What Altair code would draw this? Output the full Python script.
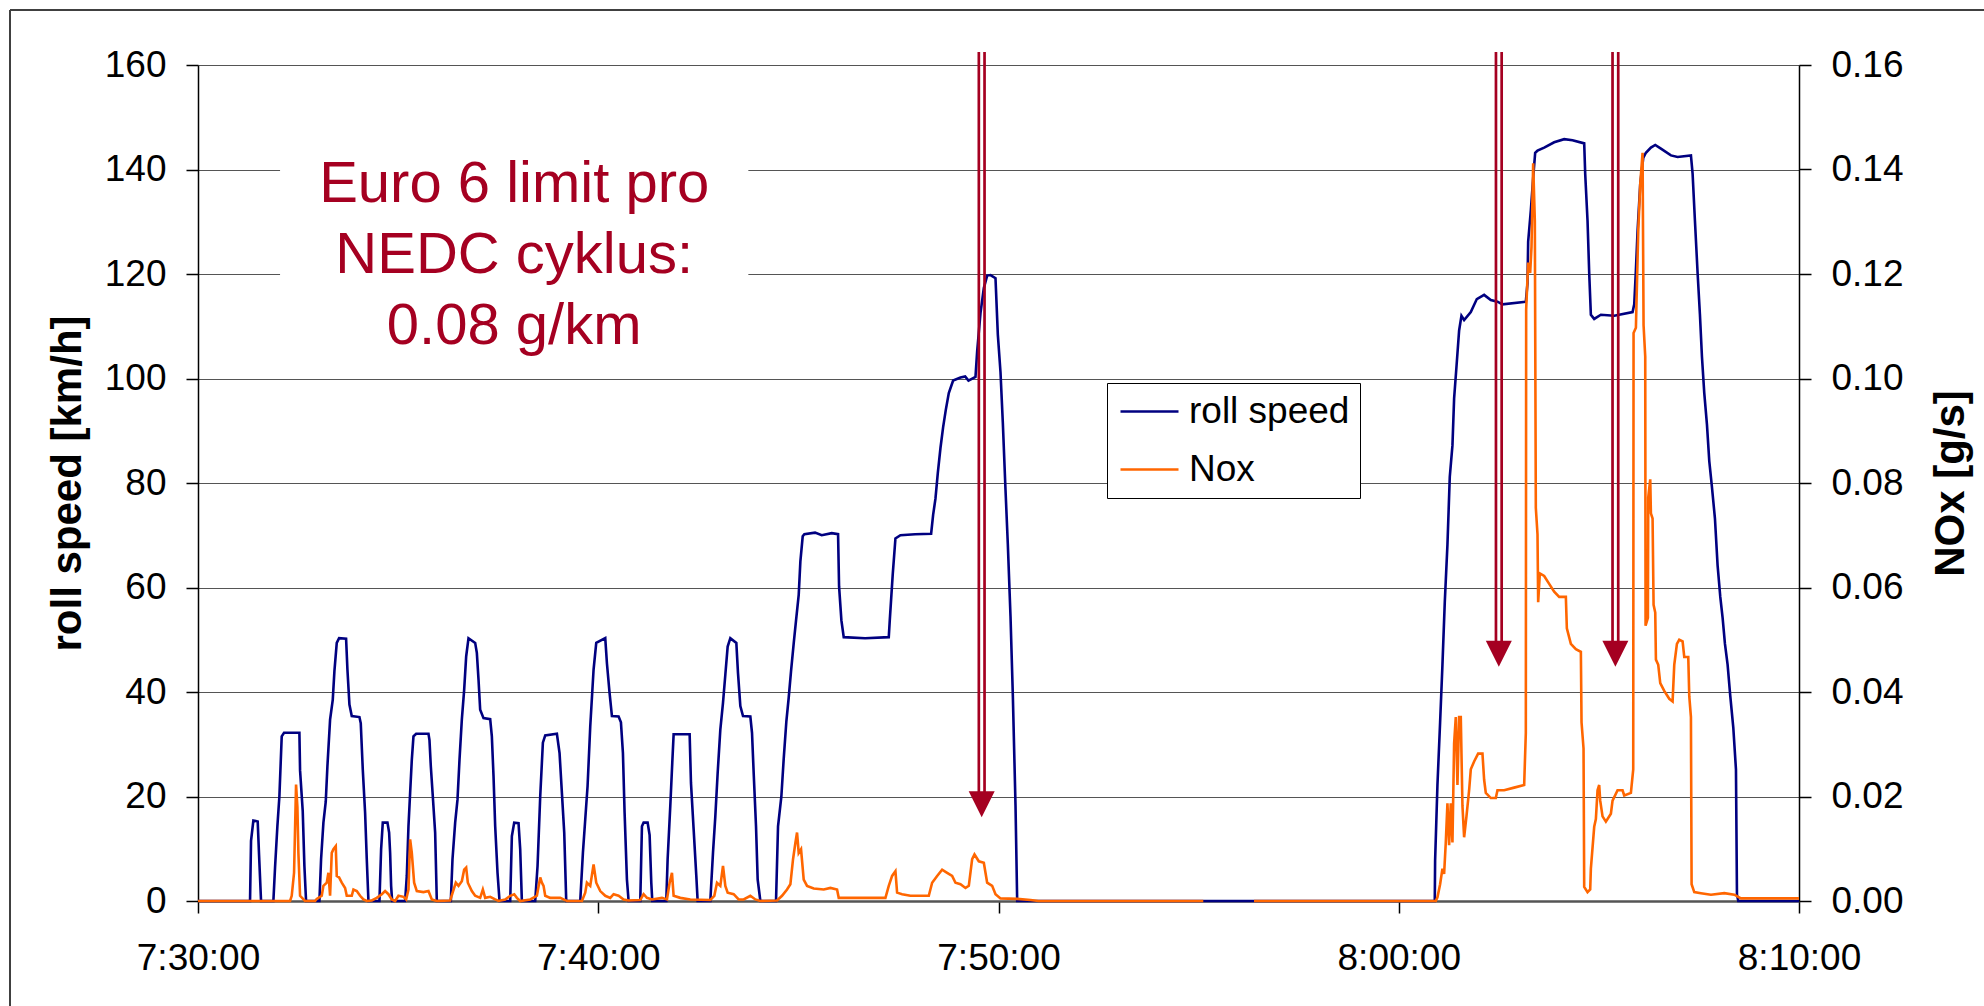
import altair as alt
import pandas as pd

# ---------------- axis ticks ----------------
tick_seconds = [0, 600, 1200, 1800, 2400]          # seconds after 7:30:00
tick_labels = ["7:30:00", "7:40:00", "7:50:00", "8:00:00", "8:10:00"]
speed_ticks = [0, 20, 40, 60, 80, 100, 120, 140, 160]
nox_ticks = [0, 0.02, 0.04, 0.06, 0.08, 0.10, 0.12, 0.14, 0.16]

# ---------------- roll speed [km/h] (t = seconds after 7:30:00) ----------------
c1_t = [0, 78, 79.5, 83, 89.5, 91.5, 94.5, 113, 115.5, 119, 122, 125.5, 129, 152, 153, 157, 159.5, 162,
        182, 184.5, 188, 191.5, 194, 198, 202, 204.5, 208, 211.5, 222, 224, 227, 230.5, 242, 244, 247,
        250.5, 253, 255.5]
c1_v = [0, 0, 11.5, 15.4, 15.2, 8.9, 0, 0, 6.4, 14.3, 20, 31.5, 32.2, 32.2, 25, 17.2, 6.7, 0,
        0, 8, 15, 19, 25.8, 34.7, 38.5, 44, 49.4, 50.3, 50.2, 44.3, 37.6, 35.4, 35.2, 34, 25.2,
        16.9, 8, 0]
c2_t = [272, 274.5, 277, 284, 286.5, 288, 289.5, 291, 310.5, 313, 315.5, 318, 320.5, 323, 327, 345.5,
        347, 349, 352, 355.5, 358, 379, 381.5, 385.5, 389, 392, 395.5, 399, 402, 405.5, 415.5, 418,
        420.5, 423, 428, 438, 440.5, 443, 445.5, 449, 452]
c2_v = [0, 9.9, 15, 15, 13.1, 9.2, 2.9, 0, 0, 4.8, 14.3, 20.7, 27, 31.5, 32, 32,
        30.8, 25.8, 20, 13.1, 0, 0, 8, 15, 19.4, 27, 34.7, 40.4, 46.8, 50.3, 49.4, 47.5,
        42.4, 36.6, 35, 34.8, 31.5, 23.9, 14.3, 5.4, 0]
c3_t = [468, 470.5, 474, 480.5, 483, 485.5, 505.5, 509, 513, 517, 520.5, 538, 542, 545.5, 549, 552,
        573, 577, 580.5, 584, 588, 593, 597, 610.5, 613, 617, 620.5, 630.5, 634, 637, 639.5, 643, 645.5]
c3_v = [0, 12.4, 15, 14.9, 9.9, 0, 0, 6.7, 20, 30.3, 31.7, 32, 28.3, 20.7, 13.1, 0,
        0, 9.2, 15.6, 22, 33.4, 44.3, 49.4, 50.3, 45.5, 39.8, 35.4, 35.3, 34.2, 28.3, 16.9, 4.1, 0]
c4_t = [663, 665.5, 668, 674, 677, 679.5, 681, 702, 704, 708, 710.5, 713, 737, 739, 743, 747, 749,
        768, 772, 775.5, 779, 783, 787, 790.5, 794, 798, 807, 809.5, 813, 817, 828, 830.5, 833, 836.5,
        839, 843]
c4_v = [0, 14.3, 15, 15, 12.6, 3.5, 0, 0, 8, 18.2, 25.2, 31.9, 31.9, 22.6, 13.7, 4.8, 0,
        0, 9.2, 16.2, 24.5, 32.8, 37.9, 43.3, 48.7, 50.3, 49.4, 43.6, 37.3, 35.4, 35.3, 32.2, 24.5, 14.3,
        4.1, 0]
eudc_t = [866.5, 869.5, 874.5, 878, 882, 885.5, 889, 893, 896.5, 900.5, 903, 906.5, 909, 925, 935, 950,
          959.5, 961, 964.5, 968, 1000, 1035.5, 1037, 1041.5, 1045.5, 1053, 1075, 1099, 1102, 1105.5,
          1109, 1113, 1117, 1121, 1125.5, 1132, 1143, 1150, 1155, 1165.5, 1168, 1173, 1178, 1183, 1188,
          1195.5, 1199, 1203, 1206.5, 1210.5, 1214, 1218, 1221.5, 1225.5, 1228]
eudc_v = [0, 14.3, 20, 27.2, 34.4, 38.9, 44, 49.3, 53.7, 58.6, 65, 69.8, 70.2, 70.5, 70, 70.4,
          70.2, 60.2, 53.7, 50.5, 50.3, 50.5, 53.7, 62.6, 69.4, 70, 70.2, 70.3, 73.9, 77,
          81.9, 86.7, 90.7, 94, 97.2, 99.6, 100.2, 100.4, 99.6, 100.3, 105.2, 112.5, 117.3, 119.7, 119.8,
          119.2, 108.4, 101.2, 91.5, 78.7, 68.2, 54.5, 39.3, 18.3, 0]
mw_t = [1854, 1854.5, 1858, 1862, 1865.5, 1869, 1873, 1876.5, 1880.5, 1883, 1886.5, 1890.5, 1894, 1898,
        1908, 1917, 1928, 1938, 1948, 1955.5, 1990.5, 1993, 1994, 1998, 2002, 2004.5, 2008, 2018, 2033,
        2048, 2060.5, 2078, 2079.5, 2083, 2085.5, 2088, 2093, 2103, 2123, 2150.5, 2153, 2155.5, 2158,
        2162, 2166.5, 2170.5, 2178, 2184.5, 2193, 2208, 2218, 2238, 2240.5, 2244, 2248, 2251.5, 2254.5,
        2258, 2262, 2265.5, 2269.5, 2274, 2278, 2282, 2285.5, 2289, 2293, 2297, 2301.5, 2305.5, 2307,
        2309, 2400]
mw_v = [0, 7.7, 22.2, 34.2, 45.2, 57.2, 68.2, 81.2, 87.2, 96.2, 102.2, 109.2, 112, 111.2,
        112.7, 115.2, 116, 115, 114.7, 114.2, 114.7, 118.2, 126.2, 132.2, 139.2, 143.2, 143.6, 144.2, 145.2,
        145.8, 145.6, 145, 139.2, 130.2, 120.2, 112.2, 111.4, 112.2, 112, 112.7, 114.2, 120.7, 128.2,
        137.2, 142.2, 143.2, 144.2, 144.7, 144, 142.7, 142.4, 142.7, 139.2, 130.2, 120.2, 112.2, 104.2,
        97.2, 91.2, 84.2, 79.2, 73.2, 64.2, 58.2, 54.2, 49.2, 45.2, 39.2, 33.2, 25.2, 1.2,
        0, 0]

# ---------------- NOx [g/s] ----------------
n1_t = [0, 138, 140.5, 144, 147, 149, 150.5, 153, 160.5, 175.5, 178, 185.5, 188, 193, 195.5, 198, 200.5,
        203, 206.5, 208, 211.5, 215.5, 220.5, 223, 230.5, 233, 238, 243, 248, 253]
n1_v = [0, 0, 0.001, 0.0054, 0.0223, 0.018, 0.0092, 0.001, 0, 0, 0.0004, 0.001, 0.0029, 0.0035, 0.0054,
        0.001, 0.0092, 0.0099, 0.0105, 0.0048, 0.0045, 0.0035, 0.0025, 0.001, 0.001, 0.0022, 0.0019,
        0.001, 0.0003, 0]
n2_t = [260.5, 268, 275.5, 280.5, 285.5, 290.5, 295.5, 300.5, 308, 312, 315.5, 318, 320.5, 324, 328, 338,
        345.5, 350.5, 358, 378, 386.5, 390.5, 395.5, 399, 402, 404.5, 410.5, 415.5, 423, 427, 430.5, 438,
        445.5, 450.5]
n2_v = [0.0001, 0.0006, 0.0013, 0.0019, 0.0013, 0.0003, 0, 0.001, 0.0008, 0.0003, 0.0022, 0.0118, 0.0092,
        0.0035, 0.0019, 0.0017, 0.0019, 0.0003, 0, 0.0001, 0.0035, 0.0029, 0.0038, 0.006, 0.0064, 0.0035,
        0.0019, 0.001, 0.0006, 0.0022, 0.0006, 0.0008, 0.0003, 0]
n3_t = [460.5, 468, 474, 478, 483, 498, 508, 513, 515.5, 518, 520.5, 528, 543, 548, 553, 575.5, 580.5,
        583, 588, 593, 597, 603, 610.5, 618, 623, 630.5, 638, 645.5]
n3_v = [0.0003, 0.001, 0.0013, 0.0006, 0, 0.0003, 0.001, 0.0045, 0.0035, 0.0029, 0.001, 0.0006, 0.0006,
        0.0003, 0, 0, 0.0016, 0.0035, 0.0029, 0.007, 0.0035, 0.0019, 0.001, 0.0006, 0.0013, 0.001,
        0.0003, 0.0001]
n4_t = [663, 668, 673, 680.5, 695.5, 703, 707, 710.5, 713, 723, 738, 768, 774, 778, 783, 787, 790.5, 794,
        803, 810.5, 818, 828, 835.5, 843]
n4_v = [0.0002, 0.0013, 0.0006, 0.0003, 0.0006, 0.0003, 0.0035, 0.0054, 0.001, 0.0006, 0.0003, 0.0002,
        0.001, 0.0035, 0.0029, 0.0067, 0.0029, 0.0016, 0.0013, 0.0003, 0.0003, 0.001, 0.0003, 0]
n5_t = [868, 875.5, 883, 888, 892, 895.5, 898, 900.5, 904, 908, 913, 923, 938, 948, 958, 960.5, 1030.5,
        1035.5, 1040.5, 1045.5, 1048, 1055.5, 1068, 1095.5, 1100.5, 1108, 1115.5, 1123, 1130.5, 1135.5,
        1143, 1150.5, 1155.5, 1160.5, 1164, 1170.5, 1178, 1183, 1190.5, 1195.5, 1203, 1228, 1248, 1260,
        1507]
n5_v = [0.0001, 0.001, 0.0022, 0.0032, 0.008, 0.0111, 0.0131, 0.0092, 0.0099, 0.0041, 0.0029, 0.0024,
        0.0022, 0.0025, 0.0022, 0.0006, 0.0006, 0.0029, 0.0048, 0.0057, 0.0016, 0.0013, 0.001, 0.001,
        0.0035, 0.0048, 0.006, 0.0054, 0.0048, 0.0035, 0.0032, 0.0025, 0.0029, 0.008, 0.0089, 0.0076,
        0.0073, 0.0035, 0.0029, 0.0013, 0.0005, 0.0004, 0.0002, 0, 0]
# after the gap in the NOx record
n6_t = [1583, 1855.5, 1858, 1862, 1865.5, 1868, 1870.5, 1873, 1875.5, 1878,
        1880.5, 1883, 1885.5, 1888, 1890.5, 1893, 1895.5, 1898, 1901.5, 1905.5,
        1908, 1913, 1919, 1925.5, 1928, 1930.5, 1938, 1945.5, 1948, 1958,
        1973, 1988, 1990.5, 1991, 1994, 1997, 1999, 2001.5, 2004, 2005.5,
        2008, 2009, 2011.5, 2018, 2025.5, 2033, 2040.5, 2050.5, 2052, 2058,
        2065.5, 2073, 2074, 2077, 2078, 2083, 2087, 2088, 2093, 2095.5,
        2098, 2100.5, 2102, 2105.5, 2110.5, 2118, 2120.5, 2128, 2135.5, 2138,
        2148, 2151.5, 2152, 2155.5, 2159, 2162, 2165.5, 2167, 2169.5, 2170,
        2173.5, 2174, 2177, 2178, 2180.5, 2182, 2184.5, 2185.5, 2189, 2192,
        2198, 2205.5, 2210.5, 2213, 2217, 2220.5, 2225.5, 2228, 2234, 2235.5,
        2238, 2239, 2243, 2253, 2268, 2288, 2303, 2313, 2400]
n6_v = [0, 0, 0.0007, 0.0032, 0.0062, 0.0052, 0.0112, 0.0187, 0.0107, 0.0187,
        0.0112, 0.0302, 0.0352, 0.0222, 0.0352, 0.0352, 0.0182, 0.0122, 0.0162, 0.0212,
        0.0252, 0.0267, 0.0282, 0.0282, 0.0232, 0.0207, 0.0197, 0.0197, 0.0212, 0.0212,
        0.0217, 0.0222, 0.0322, 0.1132, 0.1222, 0.1202, 0.1252, 0.1412, 0.1302, 0.0752,
        0.0702, 0.0572, 0.0627, 0.0622, 0.0607, 0.0592, 0.0582, 0.0582, 0.0522, 0.0492,
        0.0482, 0.0477, 0.0342, 0.0292, 0.0027, 0.0017, 0.0022, 0.0062, 0.0142, 0.0157,
        0.0212, 0.0222, 0.0192, 0.0162, 0.0152, 0.0167, 0.0192, 0.0212, 0.0212, 0.0202,
        0.0207, 0.0252, 0.1087, 0.1097, 0.1282, 0.1372, 0.1432, 0.1102, 0.1042, 0.0527,
        0.0542, 0.0772, 0.0807, 0.0742, 0.0732, 0.0567, 0.0552, 0.0462, 0.0452, 0.0417,
        0.0402, 0.0387, 0.0382, 0.0452, 0.0492, 0.05, 0.0497, 0.0467, 0.0467, 0.0392,
        0.0352, 0.0032, 0.0017, 0.0015, 0.0012, 0.0015, 0.0012, 0.0005, 0.0005]

# ---------------- annotations ----------------
arrow_t = [1174.8, 1950, 2124.75]          # seconds after 7:30:00
arrow_top = [0.1625, 0.1625, 0.1625]       # g/s (top of the shaft, above the plot)
arrow_head_top = [0.0205, 0.0495, 0.0495]
arrow_head_mid = [0.0185, 0.0473, 0.0473]
note_lines = ["Euro 6 limit pro", "NEDC cyklus:", "0.08 g/km"]
note_t, note_v = 474, 133.7
note_box_t = [123, 825]
note_box_v = [103.5, 144.5]

series_names = ["roll speed", "Nox"]
series_colors = ["#000080", "#FF6600"]
RED = "#A50021"
FONT = "Liberation Sans"

for a, b in [(c1_t, c1_v), (c2_t, c2_v), (c3_t, c3_v), (c4_t, c4_v), (eudc_t, eudc_v), (mw_t, mw_v),
             (n1_t, n1_v), (n2_t, n2_v), (n3_t, n3_v), (n4_t, n4_v), (n5_t, n5_v), (n6_t, n6_v)]:
    assert len(a) == len(b), (len(a), len(b))

speed_df = pd.DataFrame({
    "t": c1_t + c2_t + c3_t + c4_t + eudc_t + mw_t,
    "v": c1_v + c2_v + c3_v + c4_v + eudc_v + mw_v,
})
speed_df["series"] = series_names[0]

nox_a_t = n1_t + n2_t + n3_t + n4_t + n5_t
nox_a_v = n1_v + n2_v + n3_v + n4_v + n5_v
nox_df = pd.concat([
    pd.DataFrame({"t": nox_a_t, "n": nox_a_v, "seg": "a"}),
    pd.DataFrame({"t": n6_t, "n": n6_v, "seg": "b"}),
], ignore_index=True)
nox_df["series"] = series_names[1]

arrow_df = pd.DataFrame({"t": arrow_t, "n": arrow_top, "n2": arrow_head_top})
head_df = pd.DataFrame({"t": arrow_t, "n": arrow_head_mid})
note_df = pd.DataFrame({"t": [note_t], "v": [note_v], "label": ["\n".join(note_lines)]})
box_df = pd.DataFrame({"t": [note_box_t[0]], "t2": [note_box_t[1]],
                       "v": [note_box_v[0]], "v2": [note_box_v[1]]})

label_expr = " : ".join(f"datum.value == {s} ? '{l}'" for s, l in zip(tick_seconds, tick_labels)) + " : ''"

x_enc = alt.X("t:Q",
              scale=alt.Scale(domain=[0, 2400], nice=False, zero=False),
              axis=alt.Axis(values=tick_seconds, labelExpr=label_expr, title=None, grid=False,
                            tickSize=12, tickColor="black", tickWidth=1.5, labelPadding=27,
                            domainColor="#555555", domainWidth=2.5, labelFlush=False,
                            labelOverlap=False, labelFont=FONT, labelFontSize=37,
                            labelColor="black"))

y_speed = alt.Y("v:Q",
                scale=alt.Scale(domain=[0, 160], nice=False),
                axis=alt.Axis(values=speed_ticks, title="roll speed [km/h]", grid=True,
                              gridColor="#555555", gridWidth=1, tickSize=12, tickColor="black",
                              tickWidth=1.5, labelPadding=20, domainColor="black", domainWidth=1.5,
                              labelFont=FONT, labelFontSize=37, labelColor="black",
                              titleFont=FONT, titleFontSize=42, titleFontWeight="bold",
                              titleColor="black", titleAngle=270, titleX=-131, titleY=418,
                              titleAlign="center", titleBaseline="middle"))

y_nox = alt.Y("n:Q",
              scale=alt.Scale(domain=[0, 0.16], nice=False),
              axis=alt.Axis(orient="right", values=nox_ticks, format=".2f", title="NOx [g/s]",
                            grid=False, tickSize=12, tickColor="black", tickWidth=1.5,
                            labelPadding=20, domainColor="black", domainWidth=1.5,
                            labelFont=FONT, labelFontSize=37, labelColor="black",
                            titleFont=FONT, titleFontSize=42, titleFontWeight="bold",
                            titleColor="black", titleAngle=270, titleX=151, titleY=418,
                            titleAlign="center", titleBaseline="middle"))

# legend: a 58 px long sample line drawn by a custom path, rows sized by the label font
color_enc = alt.Color("series:N",
                      scale=alt.Scale(domain=series_names, range=series_colors),
                      legend=alt.Legend(title=None, orient="none", legendX=909, legendY=318,
                                        padding=10, strokeColor="black", fillColor="white",
                                        labelFont=FONT, labelFontSize=37, labelColor="black",
                                        labelLimit=0,
                                        symbolType="M-2,0L2,0", symbolSize=841,
                                        symbolStrokeWidth=2.5, symbolOffset=14,
                                        labelOffset=21, rowPadding=20))

border_top = alt.Chart(box_df).mark_rule(color="#404040", strokeWidth=2).encode(
    x=alt.value(-188), x2=alt.value(1786), y=alt.value(-55))
border_left = alt.Chart(box_df).mark_rule(color="#404040", strokeWidth=2).encode(
    x=alt.value(-188), y=alt.value(-55), y2=alt.value(941))

box = alt.Chart(box_df).mark_rect(fill="white", stroke=None).encode(
    x=x_enc, x2="t2:Q", y=y_speed, y2="v2:Q")

note = alt.Chart(note_df).mark_text(align="center", baseline="alphabetic", font=FONT, fontSize=58,
                                    color=RED, lineBreak="\n", lineHeight=71).encode(
    x=x_enc, y=y_speed, text="label:N")

speed_line = alt.Chart(speed_df).mark_line(strokeWidth=2.6).encode(
    x=x_enc, y=y_speed, color=color_enc, order="t:Q")

speed_group = alt.layer(border_top, border_left, box, note, speed_line)

nox_line = alt.Chart(nox_df).mark_line(strokeWidth=2.6).encode(
    x=x_enc, y=y_nox, color=color_enc, detail="seg:N", order="t:Q")

shaft_l = alt.Chart(arrow_df).mark_rule(color=RED, strokeWidth=2.7, xOffset=-2.85).encode(
    x=x_enc, y=y_nox, y2="n2:Q")
shaft_r = alt.Chart(arrow_df).mark_rule(color=RED, strokeWidth=2.7, xOffset=2.85).encode(
    x=x_enc, y=y_nox, y2="n2:Q")
heads = alt.Chart(head_df).mark_point(shape="M-1,-1L1,-1L0,1Z", size=676, filled=True,
                                      color=RED, opacity=1, strokeWidth=0).encode(
    x=x_enc, y=y_nox)

nox_group = alt.layer(nox_line, shaft_l, shaft_r, heads)

chart = alt.layer(speed_group, nox_group).resolve_scale(y="independent").properties(
    width=1601, height=836,
    padding={"left": 198, "top": 65, "right": 185, "bottom": 105},
    autosize=alt.AutoSizeParams(type="none"),
    background="white",
).configure_view(stroke=None)

chart.save("out.html", embed_options={"renderer": "svg", "actions": False})
